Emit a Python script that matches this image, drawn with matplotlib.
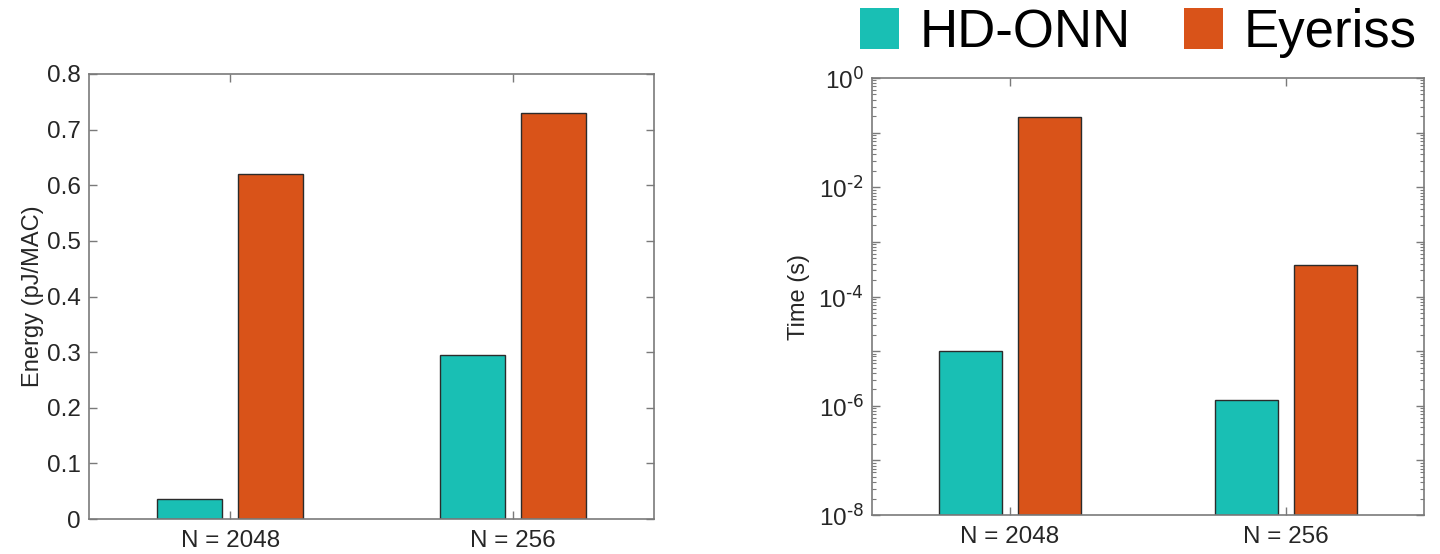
import numpy as np
import matplotlib
matplotlib.use("Agg")
import matplotlib.pyplot as plt
from matplotlib.patches import Patch
from matplotlib.ticker import FixedLocator, LogLocator, NullFormatter

plt.rcParams['font.family'] = ['Liberation Sans', 'DejaVu Sans']
plt.rcParams['mathtext.default'] = 'regular'

groups = ["N = 2048", "N = 256"]
series = ["HD-ONN", "Eyeriss"]
energy_hdonn = [0.036, 0.295]
energy_eyeriss = [0.62, 0.73]
time_hdonn = [1.0e-5, 1.28e-6]
time_eyeriss = [0.19, 3.7e-4]

c_teal = "#19BFB4"
c_orange = "#D95319"
edge = "#2b2b2b"
spine_c = "#7a7a7a"
txt_c = "#262626"

fig = plt.figure(figsize=(14.4, 5.54), dpi=100)
W, H = 1440, 554
ax1 = fig.add_axes([89 / W, 1 - 519 / H, (654 - 89) / W, (519 - 74) / H])
ax2 = fig.add_axes([872 / W, 1 - 515 / H, (1424 - 872) / W, (515 - 78) / H])

x = np.arange(1, len(groups) + 1)
bw = 0.23
off = 0.143

ax1.bar(x - off, energy_hdonn, bw, color=c_teal, edgecolor=edge, linewidth=1)
ax1.bar(x + off, energy_eyeriss, bw, color=c_orange, edgecolor=edge, linewidth=1)
ax1.set_ylim(0, 0.8)
ax1.set_yticks(np.arange(0, 0.81, 0.1))
ax1.set_yticklabels(["0"] + ["%.1f" % v for v in np.arange(0.1, 0.81, 0.1)])
ax1.set_ylabel("Energy (pJ/MAC)", fontsize=17, color=txt_c, labelpad=2)

ax2.bar(x - off, time_hdonn, bw, color=c_teal, edgecolor=edge, linewidth=1, bottom=1e-8)
ax2.bar(x + off, time_eyeriss, bw, color=c_orange, edgecolor=edge, linewidth=1, bottom=1e-8)
ax2.set_yscale("log")
ax2.set_ylim(1e-8, 1)
ax2.yaxis.set_major_locator(FixedLocator([10.0 ** k for k in range(-8, 1)]))
ax2.set_yticklabels([(r"$10^{\text{%d}}$" % k) if k % 2 == 0 else "" for k in range(-8, 1)])
ax2.yaxis.set_minor_locator(LogLocator(base=10, subs=np.arange(2, 10), numticks=20))
ax2.yaxis.set_minor_formatter(NullFormatter())
ax2.set_ylabel("Time (s)", fontsize=17, color=txt_c, labelpad=6)

for ax in (ax1, ax2):
    ax.set_xlim(0.5, 2.5)
    ax.set_xticks(x)
    ax.set_xticklabels(groups)
    for s in ax.spines.values():
        s.set_color(spine_c)
        s.set_linewidth(1.2)
    ax.tick_params(axis="both", which="major", direction="in", length=6, width=1,
                   color=spine_c, labelcolor=txt_c, labelsize=17.5,
                   top=True, right=True, pad=6)
    ax.tick_params(axis="y", which="minor", direction="in", length=3, width=0.8,
                   color=spine_c, right=True)
    ax.tick_params(axis="x", labelsize=17.5, pad=8)

handles = [Patch(facecolor=c_teal, edgecolor="none"), Patch(facecolor=c_orange, edgecolor="none")]
fig.legend(handles, series, loc="center right", bbox_to_anchor=(1417 / W, 1 - 33 / H),
           ncol=2, frameon=False, fontsize=38, handlelength=0.74, handleheight=0.8,
           handletextpad=0.4, columnspacing=1.0, borderaxespad=0, borderpad=0.0)

fig.savefig("out.png", dpi=100)
